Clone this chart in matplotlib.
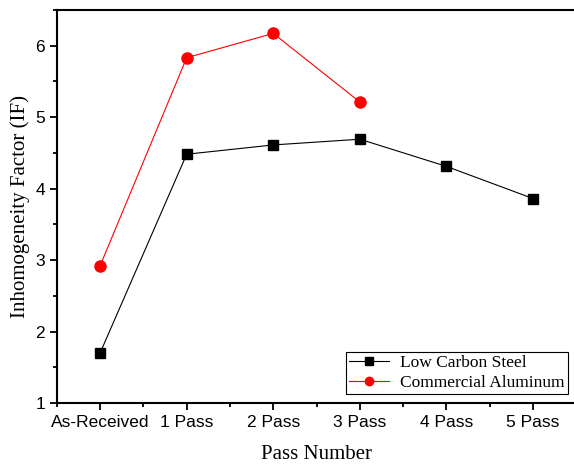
import numpy as np
import matplotlib.pyplot as plt
from matplotlib.ticker import MultipleLocator

passes = ['As-Received', '1 Pass', '2 Pass', '3 Pass', '4 Pass', '5 Pass']
steel = [1.70, 4.48, 4.61, 4.69, 4.31, 3.86]
aluminum = [2.92, 5.83, 6.17, 5.21]

fig = plt.figure(figsize=(5.74, 4.67), dpi=100)
ax = fig.add_axes([0.099, 0.137, 0.905, 0.842])

x = np.arange(len(passes))
ax.plot(x, steel, color='black', lw=0.8, marker='s', ms=7, label='Low Carbon Steel')
ax.plot(x[:len(aluminum)], aluminum, color='red', lw=0.8, marker='o', ms=8, label='Commercial Aluminum')

ax.set_xlim(-0.5, 5.5)
ax.set_ylim(1, 6.5)
ax.set_xticks(x)
ax.set_xticklabels(passes, family='Liberation Sans', fontsize=12.5)
ax.xaxis.set_minor_locator(MultipleLocator(0.5))
ax.yaxis.set_major_locator(MultipleLocator(1))
ax.yaxis.set_minor_locator(MultipleLocator(0.5))
for lab in ax.get_yticklabels():
    lab.set_family('Liberation Sans')
    lab.set_fontsize(12.5)
ax.tick_params(which='major', direction='out', length=5, width=1.3)
ax.tick_params(which='minor', direction='out', length=3, width=1.3)
for s in ax.spines.values():
    s.set_linewidth(1.5)
ax.spines['right'].set_visible(False)

ax.set_xlabel('Pass Number', family='Liberation Serif', fontsize=15, labelpad=11)
ax.set_ylabel('Inhomogeneity Factor (IF)', family='Liberation Serif', fontsize=15, labelpad=4)

leg = ax.legend(loc='lower right', prop={'family': 'Liberation Serif', 'size': 12.5},
                fancybox=False, edgecolor='black', framealpha=1, borderaxespad=0.5,
                handlelength=2.3, borderpad=0.2, labelspacing=0.2, markerscale=0.75,
                handletextpad=0.6)
leg.get_frame().set_linewidth(0.8)

fig.savefig('out.png', dpi=100)
